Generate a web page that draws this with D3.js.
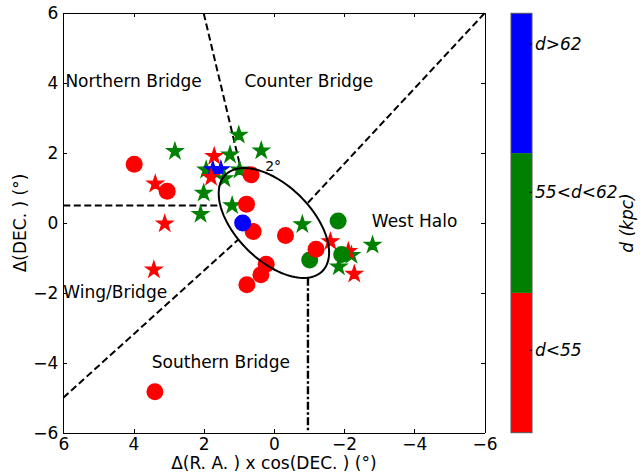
<!DOCTYPE html>
<html lang="en">
	<head>
		<meta charset="utf-8">
		<title>bridge regions</title>
		<script type="text/javascript" src="https://cdn.jsdelivr.net/npm/d3@7"></script>
		<style type="text/css">
			body {
			  margin: 0;
			  background: #fff;
			  font-family: "DejaVu Sans", sans-serif;
			}
			.axis path,
			.axis line {
			  fill: none;
			  stroke: #000;
			  shape-rendering: crispEdges;
			}
			.axis text {
			  font-family: "DejaVu Sans", sans-serif;
			  font-size: 17px;
			  fill: #000;
			}
		</style>
	</head>
	<body>
		<script type="text/javascript">

			var w = 643;
			var h = 473;

			// [dRA, dDEC]
			var redCircles = [[3.98, 1.68], [3.04, 0.91], [0.65, 1.38], [0.78, 0.54], [0.59, -0.24],
			                  [-0.33, -0.36], [0.22, -1.18], [0.37, -1.48], [0.77, -1.77], [3.39, -4.83],
			                  [-1.20, -0.75]];
			var greenCircles = [[-1.83, 0.06], [-1.02, -1.06], [-1.93, -0.90]];
			var blueCircles = [[0.89, 0.00]];

			var greenStars = [[2.82, 2.05], [1.00, 2.52], [0.36, 2.07], [1.25, 1.95], [1.93, 1.52],
			                  [0.98, 1.52], [2.00, 0.86], [2.09, 0.25], [1.19, 0.50],
			                  [-0.81, -0.04], [-2.21, -0.92], [-1.85, -1.25], [-2.81, -0.63]];
			var blueStars = [[1.74, 1.53], [1.51, 1.53]];
			var redStars = [[3.38, 1.12], [3.11, -0.02], [1.70, 1.91], [1.79, 1.31],
			                [-1.61, -0.53], [-2.12, -0.81], [-2.29, -1.46], [3.42, -1.34]];
			var lateGreenStars = [[1.41, 1.27]];

			var ticks = [6, 4, 2, 0, -2, -4, -6];

			// region boundaries [x1, y1, x2, y2]
			var dashedLines = [[6, 0.5, 1.55, 0.5], [2, 6, 0.95, 1.58], [6, -5, 1.02, -0.48], [-0.97, 0.58, -6, 6]];
			var dashDotLines = [[-0.97, -1.57, -0.97, -6]];

			// error ellipse: centre, semi-axes (deg), angle (deg)
			var ellipse = {cx: 0, cy: 0, a: 1.95, b: 1.07, angle: 45};

			var regionLabels = [["Northern Bridge", 5.94, 3.88], ["Counter Bridge", 0.84, 3.88],
			                    ["West Halo", -2.79, -0.12], ["Wing/Bridge", 6.0, -2.15],
			                    ["Southern Bridge", 3.48, -4.14]];

			var cbColors = ["#ff0000", "#008000", "#0000ff"];
			var cbLabels = ["d<55", "55<d<62", "d>62"];
			var cbTickPos = [0.59, 1.72, 2.78];

			var svg = d3.select("body").append("svg")
				.attr("width", w)
				.attr("height", h)
				.style("display", "block");

			var x = d3.scaleLinear().domain([6, -6]).range([63.3, 484.5]);
			var y = d3.scaleLinear().domain([-6, 6]).range([432.7, 13.3]);

			var plot = svg.append("g");

			// boundaries
			plot.selectAll(".dashed")
				.data(dashedLines)
				.enter().append("line")
				.attr("x1", function(d) { return x(d[0]); })
				.attr("y1", function(d) { return y(d[1]); })
				.attr("x2", function(d) { return x(d[2]); })
				.attr("y2", function(d) { return y(d[3]); })
				.attr("stroke", "#000")
				.attr("stroke-width", 2)
				.attr("stroke-dasharray", "7,3.5");

			plot.selectAll(".dashdot")
				.data(dashDotLines)
				.enter().append("line")
				.attr("x1", function(d) { return x(d[0]); })
				.attr("y1", function(d) { return y(d[1]); })
				.attr("x2", function(d) { return x(d[2]); })
				.attr("y2", function(d) { return y(d[3]); })
				.attr("stroke", "#000")
				.attr("stroke-width", 2.4)
				.attr("stroke-dasharray", "8,2.5,2.5,2.5");

			// markers
			var star = d3.symbol().type(d3.symbolStar).size(8.6 * 8.6 / 0.8908);

			function stars(data, color) {
				plot.append("g").selectAll("path")
					.data(data)
					.enter().append("path")
					.attr("d", star)
					.attr("transform", function(d) { return "translate(" + x(d[0]) + "," + y(d[1]) + ")"; })
					.attr("fill", color)
					.attr("stroke", color)
					.attr("stroke-width", 1.2)
					.attr("stroke-linejoin", "miter");
			}

			function circles(data, color) {
				plot.append("g").selectAll("circle")
					.data(data)
					.enter().append("circle")
					.attr("cx", function(d) { return x(d[0]); })
					.attr("cy", function(d) { return y(d[1]); })
					.attr("r", 8.5)
					.attr("fill", color);
			}

			stars(greenStars, "#008000");
			stars(blueStars, "#0000ff");
			stars(redStars, "#ff0000");
			stars(lateGreenStars, "#008000");
			circles(greenCircles, "#008000");
			circles(redCircles, "#ff0000");
			circles(blueCircles, "#0000ff");

			// ellipse built in data space
			var ang = ellipse.angle * Math.PI / 180;
			var ellPts = d3.range(0, 361, 3).map(function(t) {
				var r = t * Math.PI / 180;
				var u = ellipse.a * Math.cos(r), v = ellipse.b * Math.sin(r);
				return [ellipse.cx + u * Math.cos(ang) - v * Math.sin(ang),
				        ellipse.cy + u * Math.sin(ang) + v * Math.cos(ang)];
			});
			plot.append("path")
				.attr("d", d3.line().x(function(d) { return x(d[0]); }).y(function(d) { return y(d[1]); })(ellPts))
				.attr("fill", "none")
				.attr("stroke", "#000")
				.attr("stroke-width", 2);

			plot.append("text")
				.attr("x", x(0.25))
				.attr("y", y(1.5))
				.style("font-size", "14px")
				.text("2°");

			plot.selectAll(".region")
				.data(regionLabels)
				.enter().append("text")
				.attr("x", function(d) { return x(d[1]); })
				.attr("y", function(d) { return y(d[2]); })
				.style("font-size", "17px")
				.text(function(d) { return d[0]; });

			// axes, ticks pointing in on all sides
			svg.append("g")
				.attr("class", "axis")
				.attr("transform", "translate(0," + y(-6) + ")")
				.call(d3.axisBottom(x).tickValues(ticks).tickSize(-4).tickSizeOuter(0).tickPadding(5));
			svg.append("g")
				.attr("class", "axis")
				.attr("transform", "translate(" + x(6) + ",0)")
				.call(d3.axisLeft(y).tickValues(ticks).tickSize(-4).tickSizeOuter(0).tickPadding(5));
			svg.append("g")
				.attr("class", "axis")
				.attr("transform", "translate(0," + y(6) + ")")
				.call(d3.axisTop(x).tickValues(ticks).tickSize(-4).tickSizeOuter(0).tickFormat(""));
			svg.append("g")
				.attr("class", "axis")
				.attr("transform", "translate(" + x(-6) + ",0)")
				.call(d3.axisRight(y).tickValues(ticks).tickSize(-4).tickSizeOuter(0).tickFormat(""));

			svg.append("text")
				.attr("x", (x(6) + x(-6)) / 2)
				.attr("y", 469)
				.attr("text-anchor", "middle")
				.style("font-size", "17px")
				.text("Δ(R. A. ) x cos(DEC. ) (°)");

			svg.append("text")
				.attr("transform", "translate(26," + y(0) + ") rotate(-90)")
				.attr("text-anchor", "middle")
				.style("font-size", "17px")
				.text("Δ(DEC. ) (°)");

			// colour bar
			var cb = d3.scaleLinear().domain([0, 3]).range([432.7, 13.3]);
			var cbx = 511, cbw = 21;
			var bar = svg.append("g");
			bar.selectAll("rect")
				.data(cbColors)
				.enter().append("rect")
				.attr("x", cbx)
				.attr("y", function(d, i) { return cb(i + 1); })
				.attr("width", cbw)
				.attr("height", function(d, i) { return cb(i) - cb(i + 1); })
				.attr("fill", function(d) { return d; });
			bar.append("rect")
				.attr("x", cbx).attr("y", cb(3))
				.attr("width", cbw).attr("height", cb(0) - cb(3))
				.attr("fill", "none")
				.attr("stroke", "#555")
				.attr("stroke-width", 1);
			bar.selectAll(".cbtick")
				.data(cbTickPos)
				.enter().append("line")
				.attr("x1", cbx + cbw - 3).attr("x2", cbx + cbw)
				.attr("y1", function(d) { return cb(d); })
				.attr("y2", function(d) { return cb(d); })
				.attr("stroke", "#000");
			bar.selectAll(".cblabel")
				.data(cbLabels)
				.enter().append("text")
				.attr("x", cbx + cbw + 3)
				.attr("y", function(d, i) { return cb(cbTickPos[i]); })
				.attr("dy", "0.35em")
				.style("font-size", "17px")
				.style("font-style", "italic")
				.text(function(d) { return d; });
			bar.append("text")
				.attr("transform", "translate(633," + cb(1.5) + ") rotate(-90)")
				.attr("text-anchor", "middle")
				.style("font-size", "17px")
				.style("font-style", "italic")
				.text("d (kpc)");

		</script>
	</body>
</html>
